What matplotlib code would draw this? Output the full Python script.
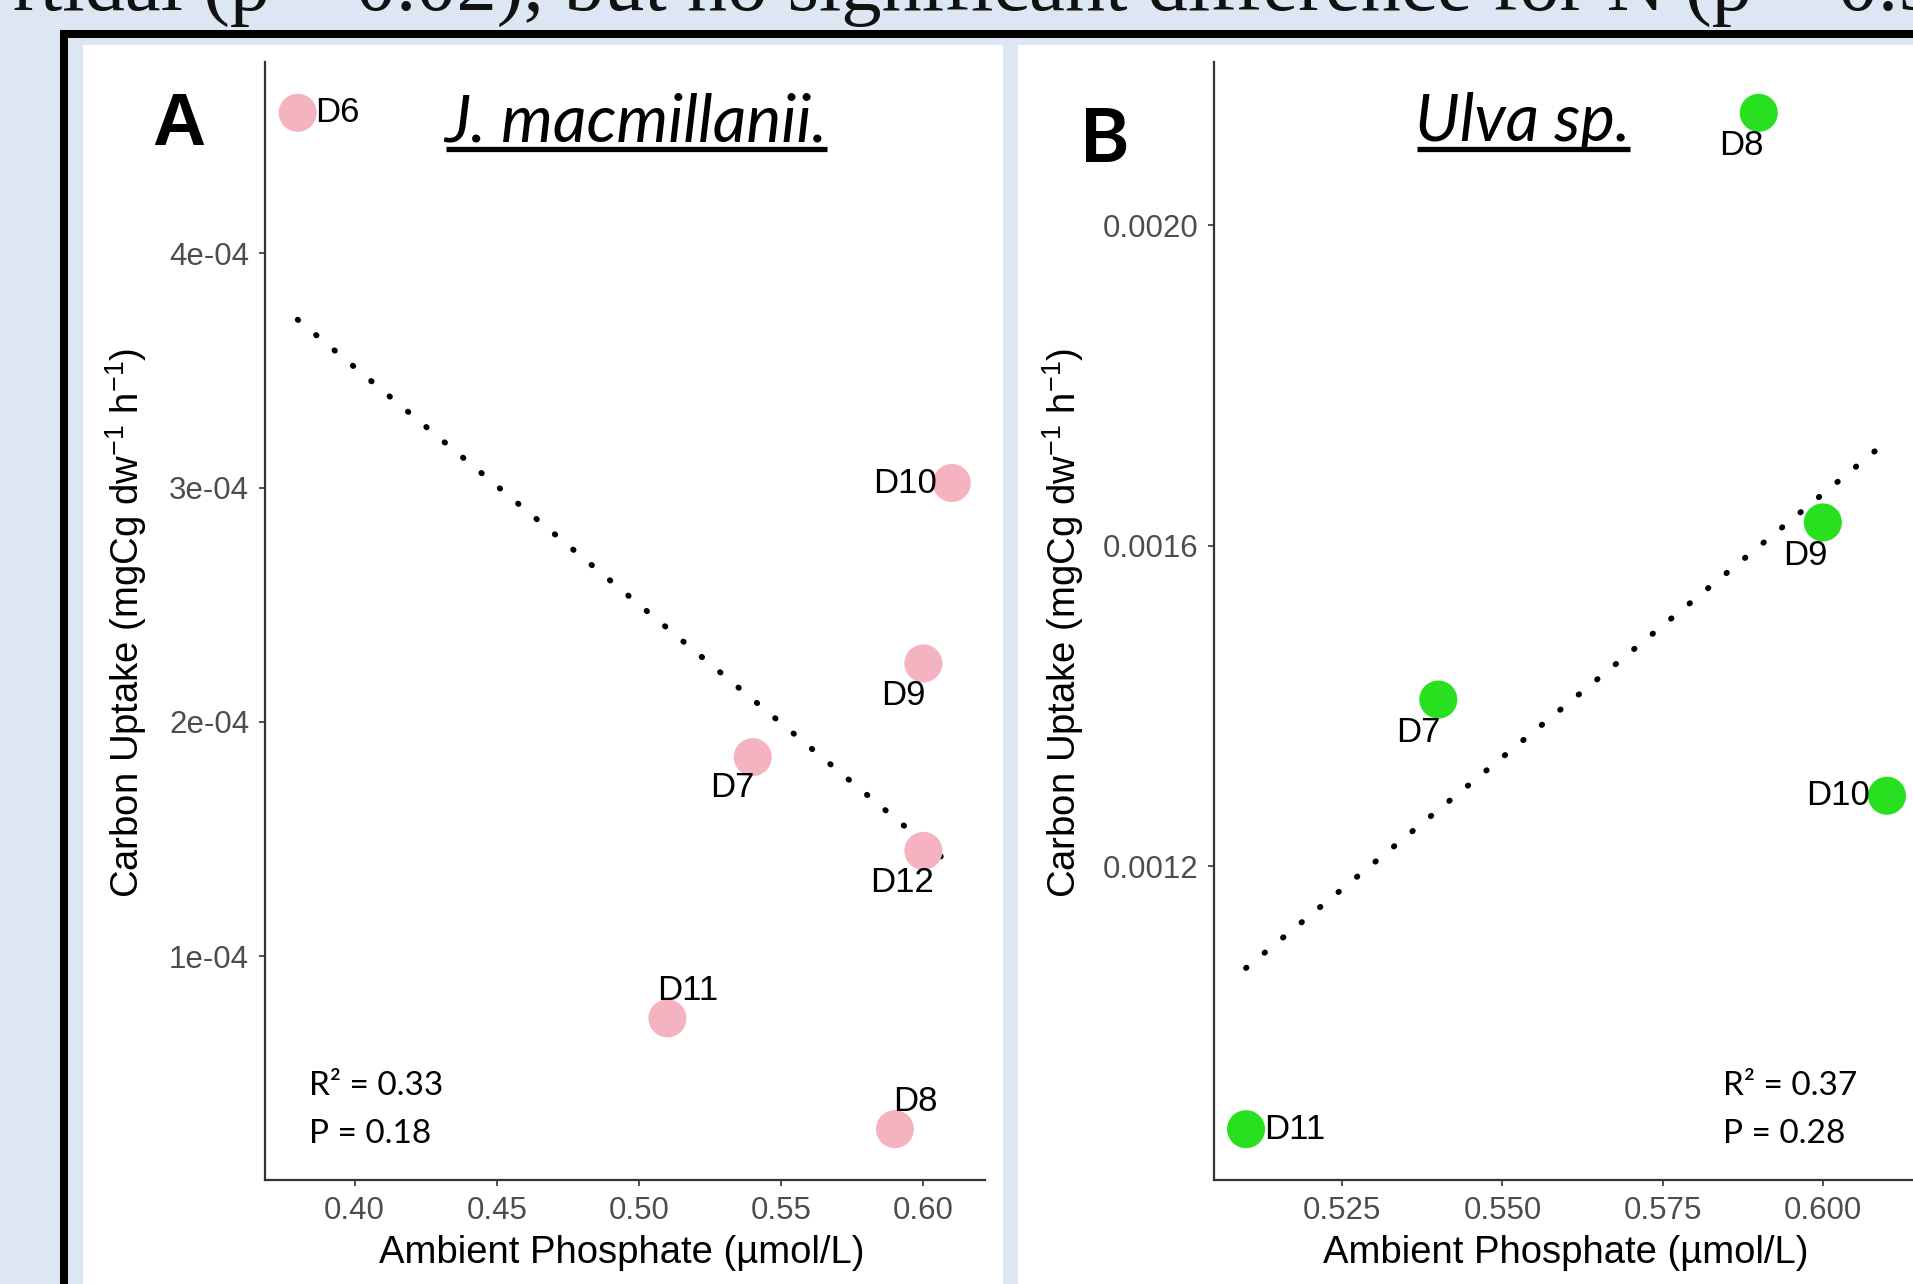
import numpy as np
import matplotlib
matplotlib.use('Agg')
import matplotlib.pyplot as plt
from matplotlib.patches import Rectangle
from matplotlib.lines import Line2D

# ---------------- data ----------------
sites_A = ['D6', 'D10', 'D9', 'D7', 'D12', 'D11', 'D8']
phos_A = [0.38, 0.61, 0.60, 0.54, 0.60, 0.51, 0.59]
uptake_A = [4.60e-4, 3.02e-4, 2.25e-4, 1.85e-4, 1.45e-4, 0.735e-4, 0.262e-4]

sites_B = ['D8', 'D9', 'D7', 'D10', 'D11']
phos_B = [0.59, 0.60, 0.54, 0.61, 0.51]
uptake_B = [2.14e-3, 1.629e-3, 1.408e-3, 1.288e-3, 0.872e-3]

xticks_A = [0.40, 0.45, 0.50, 0.55, 0.60]
xticklabels_A = ['0.40', '0.45', '0.50', '0.55', '0.60']
yticks_A = [1e-4, 2e-4, 3e-4, 4e-4]
yticklabels_A = ['1e-04', '2e-04', '3e-04', '4e-04']

xticks_B = [0.525, 0.550, 0.575, 0.600]
xticklabels_B = ['0.525', '0.550', '0.575', '0.600']
yticks_B = [0.0012, 0.0016, 0.0020]
yticklabels_B = ['0.0012', '0.0016', '0.0020']

stats_A = ['R\u00b2 = 0.33', 'P = 0.18']
stats_B = ['R\u00b2 = 0.37', 'P = 0.28']

title_A = 'J. macmillanii.'
title_B = 'Ulva sp.'
xlabel = 'Ambient Phosphate (\u00b5mol/L)'
ylabel = 'Carbon Uptake (mgCg dw$^{-1}$ h$^{-1}$)'
top_text = 'rtidal (p = 0.02), but no significant difference for N (p = 0.9'

# label placement styles (pixel offsets dx, dy(down), horizontal alignment)
lab_style_A = [(17, 0, 'left'), (-15, 0, 'right'), (-20, 32, 'center'), (-20, 30, 'center'),
               (-21, 32, 'center'), (20, -28, 'center'), (20, -28, 'center')]
lab_style_B = [(-17, 33, 'center'), (-18, 33, 'center'), (-20, 33, 'center'),
               (-17, 0, 'right'), (18, 0, 'left')]

# ---------------- figure ----------------
plt.rcParams['mathtext.fontset'] = 'custom'
plt.rcParams['mathtext.rm'] = 'Liberation Sans'
plt.rcParams['mathtext.it'] = 'Liberation Sans:italic'
plt.rcParams['mathtext.bf'] = 'Liberation Sans:bold'

W, H = 1913, 1284
fig = plt.figure(figsize=(W / 100, H / 100), dpi=100)
BLUE = '#dce7f3'
fig.patch.set_facecolor(BLUE)


def fx(x):
    return x / W


def fy(y):
    return 1 - y / H


def rect(x0, y0, x1, y1, color, z=-10):
    fig.add_artist(Rectangle((fx(x0), fy(y1)), fx(x1) - fx(x0), fy(y0) - fy(y1),
                             transform=fig.transFigure, facecolor=color,
                             edgecolor='none', zorder=z))


rect(60, 30, W + 10, 38, 'black')
rect(60, 30, 68, H + 10, 'black')
rect(83, 45, 1003, H + 10, 'white')
rect(1018, 45, W + 10, H + 10, 'white')

SANS = ['Liberation Sans', 'DejaVu Sans']
CAL = ['Lato', 'DejaVu Sans']
SERIF = ['Liberation Serif', 'DejaVu Serif']

fig.canvas.draw()
r = fig.canvas.get_renderer()


def text_w(s, size, family):
    t = fig.text(0, 0.5, s, fontsize=size, family=family)
    w = t.get_window_extent(renderer=r).width
    t.remove()
    return w


# fit the cropped serif line so both "(" land where they are in the picture
p1 = top_text.index('(') + 1
p2 = top_text.rindex('(') + 1
f0 = 50
wa = text_w(top_text[:p1], f0, SERIF)
wb = text_w(top_text[:p2], f0, SERIF)
sc = (1712 - 230) / (wb - wa)
fig.text(fx(230 - wa * sc), fy(10), top_text, fontsize=f0 * sc, family=SERIF,
         va='baseline', ha='left', color='#111111')


def lims(v):
    lo, hi = min(v), max(v)
    rr = hi - lo
    return lo - 0.05 * rr, hi + 0.05 * rr


def panel(rect_px, xs, ys, sites, styles, color, xt, xtl, yt, ytl):
    x0, x1 = rect_px
    ax = fig.add_axes([fx(x0), fy(1180), (x1 - x0) / W, 1118 / H])
    ax.set_facecolor('none')
    for s in ['top', 'right']:
        ax.spines[s].set_visible(False)
    for s in ['left', 'bottom']:
        ax.spines[s].set_color('#333333')
        ax.spines[s].set_linewidth(1.6)
    ax.set_xlim(*lims(xs))
    ax.set_ylim(*lims(ys))
    ax.set_xticks(xt)
    ax.set_xticklabels(xtl)
    ax.set_yticks(yt)
    ax.set_yticklabels(ytl)
    ax.tick_params(length=4.5, width=1.2, color='#333333', labelsize=22.5,
                   labelcolor='#4d4d4d', pad=7)
    for lab in ax.get_xticklabels() + ax.get_yticklabels():
        lab.set_family(SANS)
    # regression line
    k, b = np.polyfit(xs, ys, 1)
    lx = np.array([min(xs), max(xs)])
    ax.plot(lx, k * lx + b, color='black', lw=4.2, linestyle=(0, (0.1, 4.0)),
            dash_capstyle='round', zorder=2)
    ax.scatter(xs, ys, s=750, color=color, edgecolors='none', zorder=3)
    for s, x, y, (dx, dy, ha) in zip(sites, xs, ys, styles):
        ax.annotate(s, (x, y), xytext=(dx * 0.72, -dy * 0.72), textcoords='offset points',
                    ha=ha, va='center', fontsize=25, family=SANS, color='black', zorder=4)
    return ax


axA = panel((265, 984.5), phos_A, uptake_A, sites_A, lab_style_A, '#f5b3c2',
            xticks_A, xticklabels_A, yticks_A, yticklabels_A)
axB = panel((1214, 1919), phos_B, uptake_B, sites_B, lab_style_B, '#28e020',
            xticks_B, xticklabels_B, yticks_B, yticklabels_B)

# axis titles
for cx in (622, 1566):
    fig.text(fx(cx), fy(1253), xlabel, fontsize=27.5, family=SANS, ha='center', va='center')
for cy_x in (126, 1063):
    fig.text(fx(cy_x), fy(623), ylabel, fontsize=27.5, family=SANS, ha='center', va='center',
             rotation=90)

# panel letters
fig.text(fx(152), fy(145), 'A', fontsize=53, family=SANS, weight='bold', va='baseline')
fig.text(fx(1080), fy(162), 'B', fontsize=54, family=CAL, weight='bold', va='baseline')

# stats
for x0, st in ((309, stats_A), (1723, stats_B)):
    fig.text(fx(x0), fy(1095), st[0], fontsize=24, family=CAL, va='baseline')
    fig.text(fx(x0), fy(1143), st[1], fontsize=24, family=CAL, va='baseline')

# titles (italic underlined)
tA = fig.text(fx(444), fy(141), title_A, fontsize=50, family=CAL, style='italic', va='baseline')
tB = fig.text(fx(1415), fy(141), title_B, fontsize=50, family=CAL, style='italic', va='baseline')
fig.canvas.draw()
for t, tw in ((tA, 383), (tB, 215)):
    bb = t.get_window_extent(renderer=r)
    t.set_fontsize(t.get_fontsize() * tw / bb.width)
fig.canvas.draw()
for t in (tA, tB):
    bb = t.get_window_extent(renderer=r)
    fig.add_artist(Line2D([bb.x0 / W + 2 / W, bb.x1 / W], [fy(149), fy(149)],
                          transform=fig.transFigure, color='black', lw=3.8,
                          solid_capstyle='butt'))

fig.savefig('out.png', dpi=100, facecolor=fig.get_facecolor())
